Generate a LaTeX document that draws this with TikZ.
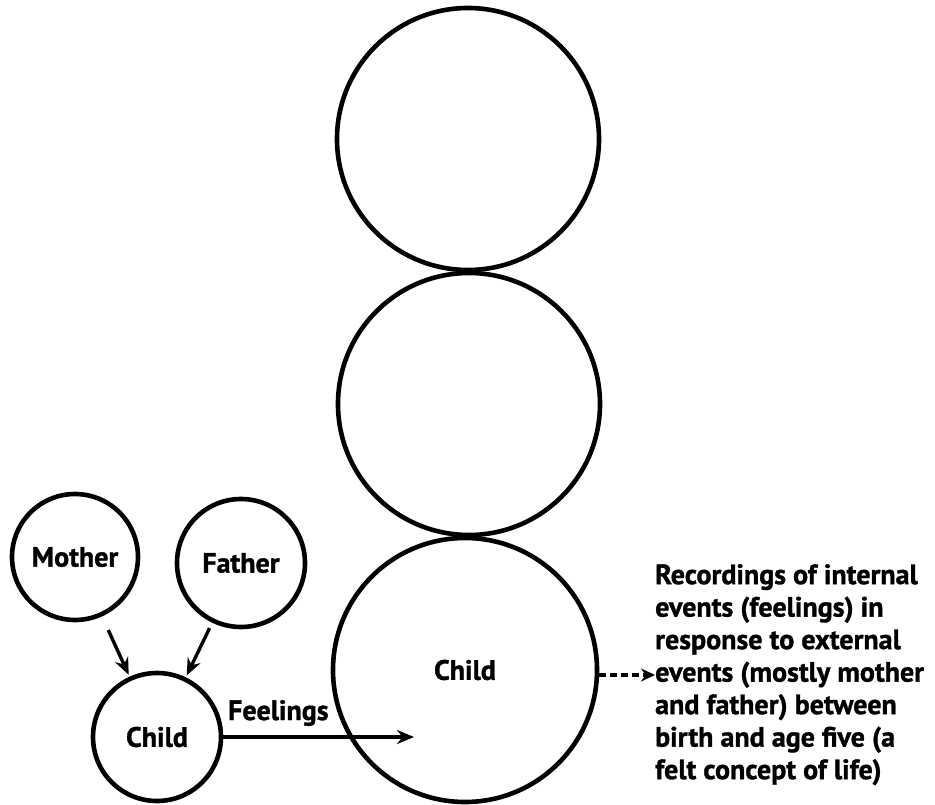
\documentclass[tikz,border=0pt]{standalone}
\usepackage{fontspec}
\setmainfont{PT Sans}[BoldFeatures={FakeBold=1.2}]
\usetikzlibrary{arrows.meta}
\begin{document}
\begin{tikzpicture}[x=1pt,y=-1pt,
  ring/.style={draw=black,line width=4.6pt,circle,inner sep=0pt,
    minimum size=#1,font=\bfseries\fontsize{28}{32}\selectfont},
  arr/.style={line width=3.4pt,-{Stealth[length=17pt,width=14pt]}},
  dasharr/.style={line width=3.2pt,dash pattern=on 7pt off 4pt,
    -{Stealth[length=14pt,width=13pt]}},
  lbl/.style={font=\bfseries\fontsize{28}{32}\selectfont,inner sep=0pt}]
\useasboundingbox (0,0) rectangle (935,805);
% the stack of three large circles
\node[ring=262pt] (top) at (468,139) {};
\node[ring=262pt] (mid) at (469,404) {};
\node[ring=264pt] (big) at (465,670) {Child};
% parents and the small child
\node[ring=126pt] (mother) at (75,557) {Mother};
\node[ring=128pt] (father) at (241,563) {Father};
\node[ring=128pt] (child) at (157,737) {Child};
\draw[arr,shorten <=15pt,shorten >=2pt] (mother) -- (child);
\draw[arr,shorten <=6pt,shorten >=2pt] (father) -- (child);
% feelings carried into the large circle
\coordinate (feelend) at (414,737);
\draw[arr] (child.east |- feelend) -- (feelend);
\node[lbl,anchor=base west] (feel) at (228,720) {Feelings};
% description on the right
\node[lbl,anchor=north west,align=left,
  font=\bfseries\fontsize{28}{32.5}\selectfont] (rec) at (655,564)
  {Recordings of internal\\
   events (feelings) in\\
   response to external\\
   events (mostly mother\\
   and father) between\\
   birth and age five (a\\
   felt concept of life)};
\draw[dasharr] ([yshift=-5pt]big.east) -- ([yshift=-5pt]big.east -| rec.west);
\end{tikzpicture}
\end{document}
